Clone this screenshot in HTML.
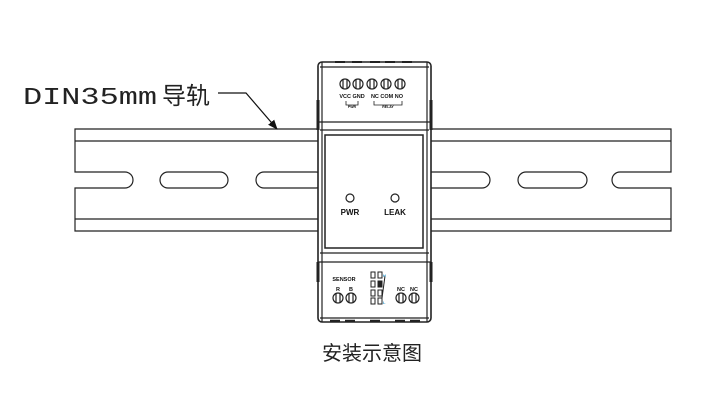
<!DOCTYPE html>
<html><head><style>
body{margin:0;background:#fff;}
svg{display:block;}
text{font-family:"Liberation Sans",Arial,sans-serif;font-weight:bold;fill:#111;}
</style></head><body>
<svg width="706" height="405" viewBox="0 0 706 405" xmlns="http://www.w3.org/2000/svg">
<defs><marker id="ar" markerWidth="10" markerHeight="8" refX="9" refY="4" orient="auto" markerUnits="userSpaceOnUse"><path d="M0,0 L10,4 L0,8 z" fill="#111"/></marker></defs>
<g stroke="#222" stroke-width="1.2" fill="none">
<path d="M75,129 H671 V172 H620 A8,8 0 0 0 620,188 H671 V231 H75 V188 H125 A8,8 0 0 0 125,172 H75 Z" fill="#fff"/>
<line x1="75" y1="141" x2="671" y2="141"/>
<line x1="75" y1="219" x2="671" y2="219"/>
<rect x="160" y="172" width="68" height="16" rx="8"/>
<rect x="256" y="172" width="68" height="16" rx="8"/>
<rect x="422" y="172" width="68" height="16" rx="8"/>
<rect x="518" y="172" width="69" height="16" rx="8"/>
<polyline points="218,93 246,93 277,129" marker-end="url(#ar)" stroke="#111"/>
<rect x="318" y="62" width="113" height="260" rx="4" fill="#fff" stroke-width="1.6"/>
<line x1="320" y1="67" x2="429" y2="67"/>
<line x1="322" y1="62" x2="322" y2="322"/>
<line x1="427" y1="62" x2="427" y2="322"/>
<line x1="318" y1="122" x2="431" y2="122"/>
<line x1="320" y1="130" x2="429" y2="130"/>
<rect x="325" y="135" width="98" height="113" stroke-width="1.5"/>
<line x1="320" y1="253" x2="429" y2="253"/>
<line x1="318" y1="262" x2="431" y2="262"/>
<line x1="320" y1="318" x2="429" y2="318"/>
<path d="M318,100 v30 M431,100 v30 M318,262 v20 M431,262 v20" stroke-width="3"/>
<path d="M330,321 h10 M345,321 h10 M370,321 h10 M395,321 h10 M410,321 h10" stroke-width="2.5"/>
<path d="M335,62 h10 M352,62 h10 M370,62 h10 M385,62 h10 M402,62 h10" stroke-width="2"/>
<g stroke-width="1.2">
<circle cx="345" cy="84" r="5"/><line x1="343" y1="79.5" x2="343" y2="88.5"/><line x1="347" y1="79.5" x2="347" y2="88.5"/>
<circle cx="358" cy="84" r="5"/><line x1="356" y1="79.5" x2="356" y2="88.5"/><line x1="360" y1="79.5" x2="360" y2="88.5"/>
<circle cx="372" cy="84" r="5"/><line x1="370" y1="79.5" x2="370" y2="88.5"/><line x1="374" y1="79.5" x2="374" y2="88.5"/>
<circle cx="386" cy="84" r="5"/><line x1="384" y1="79.5" x2="384" y2="88.5"/><line x1="388" y1="79.5" x2="388" y2="88.5"/>
<circle cx="400" cy="84" r="5"/><line x1="398" y1="79.5" x2="398" y2="88.5"/><line x1="402" y1="79.5" x2="402" y2="88.5"/>
</g>
<path d="M346,101 v4 h12 v-4 M374,101 v4 h28 v-4" stroke-width="0.8"/>
<circle cx="350" cy="198" r="4"/>
<circle cx="395" cy="198" r="4"/>
<circle cx="338" cy="298" r="5"/><line x1="336" y1="293.5" x2="336" y2="302.5"/><line x1="340" y1="293.5" x2="340" y2="302.5"/>
<circle cx="351" cy="298" r="5"/><line x1="349" y1="293.5" x2="349" y2="302.5"/><line x1="353" y1="293.5" x2="353" y2="302.5"/>
<circle cx="401" cy="298" r="5"/><line x1="399" y1="293.5" x2="399" y2="302.5"/><line x1="403" y1="293.5" x2="403" y2="302.5"/>
<circle cx="414" cy="298" r="5"/><line x1="412" y1="293.5" x2="412" y2="302.5"/><line x1="416" y1="293.5" x2="416" y2="302.5"/>
<g stroke-width="1">
<rect x="371" y="272" width="4" height="6"/><rect x="371" y="281" width="4" height="6"/><rect x="371" y="290" width="4" height="6"/><rect x="371" y="298" width="4" height="6"/>
<rect x="378" y="272" width="4" height="6"/><rect x="378" y="281" width="4" height="6" fill="#222"/><rect x="378" y="290" width="4" height="6"/><rect x="378" y="298" width="4" height="6"/>
<line x1="385" y1="276" x2="382" y2="298"/>
</g>
</g>
<text x="352" y="98" font-size="5.5" text-anchor="middle">VCC GND</text>
<text x="387" y="98" font-size="5.5" text-anchor="middle">NC COM NO</text>
<text x="352" y="108" font-size="3.5" text-anchor="middle">PWR</text>
<text x="388" y="108" font-size="3.5" text-anchor="middle">RELAY</text>
<text x="350" y="215" font-size="8" text-anchor="middle">PWR</text>
<text x="395" y="215" font-size="8" text-anchor="middle">LEAK</text>
<text x="344" y="281" font-size="5.5" text-anchor="middle">SENSOR</text>
<text x="338" y="291" font-size="5.5" text-anchor="middle">R</text>
<text x="351" y="291" font-size="5.5" text-anchor="middle">B</text>
<text x="401" y="291" font-size="5.5" text-anchor="middle">NC</text>
<text x="414" y="291" font-size="5.5" text-anchor="middle">NC</text>
<text x="383" y="277" font-size="4" style="fill:#39c">H</text>
<text x="383" y="304" font-size="4" style="fill:#39c">L</text>
<text x="23" y="104" font-size="24" style="font-weight:normal;font-family:'Liberation Mono',monospace;fill:#222" textLength="134" lengthAdjust="spacingAndGlyphs">DIN35mm</text>
<text x="162" y="104" font-size="24" style="font-weight:normal;font-family:'Noto Sans CJK SC',sans-serif;fill:#222">导轨</text>
<text x="372" y="360" font-size="20" text-anchor="middle" style="font-weight:normal;font-family:'Noto Sans CJK SC',sans-serif;fill:#222">安装示意图</text>
</svg>
</body></html>
